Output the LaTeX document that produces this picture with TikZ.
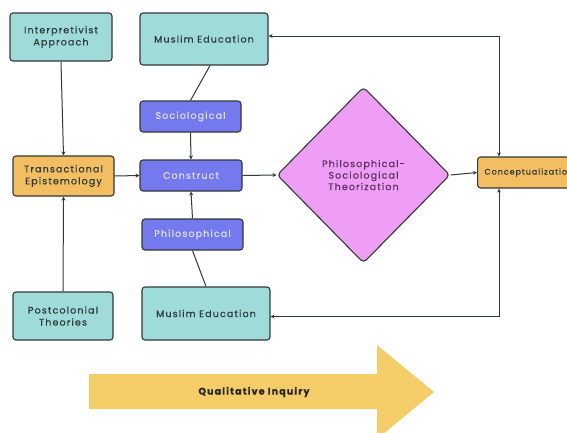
\documentclass[tikz,border=0pt]{standalone}
\usepackage{fontspec}
\setmainfont{Poppins}[LetterSpace=12, FakeBold=0.5]
\usetikzlibrary{shapes.geometric,arrows.meta,calc}
\definecolor{tealc}{HTML}{9FDBD9}
\definecolor{orangec}{HTML}{F3BE62}
\definecolor{bluec}{HTML}{7479EE}
\definecolor{pinkc}{HTML}{EE9EF5}
\definecolor{bigarrow}{HTML}{F5CD68}
\definecolor{edge}{HTML}{333838}
\definecolor{txt}{HTML}{2E3A3A}
\definecolor{btxt}{HTML}{DCDFFF}
\definecolor{ptxt}{HTML}{5E2F62}
\begin{document}
\begin{tikzpicture}[x=1pt,y=-1pt,
  box/.style={draw=edge, line width=1.1pt, rounded corners=3pt, align=center,
    font=\fontsize{9.5}{12}\selectfont, text=txt, inner sep=0pt},
  tealbox/.style={box, fill=tealc},
  orangebox/.style={box, fill=orangec},
  bluebox/.style={box, fill=bluec, text=btxt},
  conn/.style={draw=edge, line width=1pt},
  arr/.style={conn, -{Stealth[length=4pt,width=4pt]}},
  darr/.style={conn, {Stealth[length=4pt,width=4pt]}-{Stealth[length=4pt,width=4pt]}}
]
\useasboundingbox (0,0) rectangle (567,432);

\fill[bigarrow] (89,374) -- (377,374) -- (377,345) -- (434,392) -- (377,439) -- (377,409) -- (89,409) -- cycle;
\node[font=\bfseries\fontsize{9.5}{12}\selectfont, text=black!85] (qi) at (254,392) {Qualitative Inquiry};

\node[tealbox, minimum width=102pt, minimum height=48pt] (interp) at (61,37) {Interpretivist\\Approach};
\node[tealbox, minimum width=128pt, minimum height=52pt] (mtop) at (204,39) {Muslim Education};
\node[bluebox, minimum width=101pt, minimum height=31pt] (soc) at (190.5,116.5) {Sociological};
\node[orangebox, minimum width=101pt, minimum height=40pt] (trans) at (63.5,176) {Transactional\\Epistemology};
\node[bluebox, minimum width=102pt, minimum height=31pt] (cons) at (191,175.5) {Construct};
\node[bluebox, minimum width=101pt, minimum height=31pt] (phil) at (192.5,234.5) {Philosophical};
\node[tealbox, minimum width=100pt, minimum height=48pt] (post) at (63,316) {Postcolonial\\Theories};
\node[tealbox, minimum width=128pt, minimum height=53pt] (mbot) at (206,313.5) {Muslim Education};
\node[diamond, draw=edge, line width=1.1pt, rounded corners=4pt, fill=pinkc, text=ptxt,
  align=center, font=\fontsize{9.5}{11.5}\selectfont, inner sep=0pt,
  minimum width=173pt, minimum height=176pt] (dia) at (363.5,175) {Philosophical-\\Sociological\\Theorization};
\node[orangebox, font=\fontsize{8}{10}\selectfont, anchor=west, inner xsep=7pt,
  minimum height=31pt] (concept) at (477,172.5) {Conceptualization};

\coordinate (tx) at (499,0);

\draw[arr] (interp.south) -- (trans.north);
\draw[arr] (post.north) -- (trans.south);
\draw[arr] (trans.east) -- (cons.west);
\draw[arr] (soc.south) -- (cons.north);
\draw[arr] (phil.north) -- (cons.south);
\draw[arr] (cons.east) -- (dia.west);
\draw[arr] (dia.east) -- (concept.west);
\draw[conn] ([xshift=6pt]mtop.south) -- (soc.north);
\draw[conn] (phil.south) -- (mbot.north);
\draw[darr] ([yshift=3pt]mtop.east) -| (tx |- concept.north);
\draw[darr] ([yshift=-3pt]mbot.east) -| (tx |- concept.south);
\end{tikzpicture}
\end{document}
